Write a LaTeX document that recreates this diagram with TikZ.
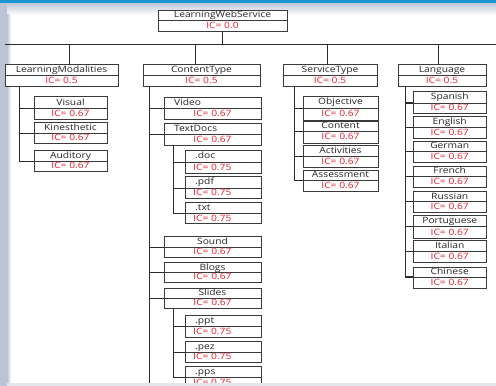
\documentclass[tikz,border=0pt]{standalone}
\usepackage{fontspec}
\setmainfont{Open Sans}[FakeStretch=1.18]

\definecolor{topblue}{HTML}{1C96D2}
\definecolor{bandgray}{HTML}{BEC6D7}
\definecolor{stripgray}{HTML}{BCC3D5}
\definecolor{botgray}{HTML}{E4E6EC}
\definecolor{boxgray}{HTML}{3A3A3A}
\definecolor{linkgray}{HTML}{2B2B2B}
\definecolor{labelgray}{HTML}{262626}
\definecolor{icred}{HTML}{E8202E}

\tikzset{
  box/.style={draw=boxgray, line width=0.8pt, fill=white, inner sep=0pt, outer sep=0pt},
  divider/.style={draw=boxgray, line width=0.8pt},
  link/.style={draw=linkgray, line width=0.9pt},
  lbl/.style={inner sep=0pt, text=labelgray, font=\fontsize{8.7}{9}\selectfont,
              text height=6.2pt, text depth=1.2pt},
  ic/.style={lbl, text=icred},
}

% #1 name, #2 left, #3 top, #4 right, #5 divider, #6 bottom,
% #7 label, #8 IC value, #9 alignment (0 centred, 1 label left, 2 both left)
\newcommand\icbox[9]{%
  \node[box, anchor=north west, minimum width={(#4)-(#2)}, minimum height={(#6)-(#3)}] (#1) at (#2,#3) {};
  \coordinate (#1-d) at (#2,#5);
  \draw[divider] (#1-d) -- (#1-d -| #1.east);
  \ifcase#9
    \node[lbl] (#1-name) at ({(#2+#4)/2},{(#3+#5)/2}) {#7};
    \node[ic] (#1-ic) at ({(#2+#4)/2},{(#5+#6)/2}) {#8};
  \or
    \node[lbl, anchor=west] (#1-name) at ({#2+10},{(#3+#5)/2}) {#7};
    \node[ic] (#1-ic) at ({(#2+#4)/2},{(#5+#6)/2}) {#8};
  \or
    \node[lbl, anchor=west] (#1-name) at ({#2+10},{(#3+#5)/2}) {#7};
    \node[ic, anchor=west] (#1-ic) at ({#2+8},{(#5+#6)/2}) {#8};
  \fi
}

\begin{document}
\begin{tikzpicture}[x=1pt, y=-1pt]
  \useasboundingbox (0,0) rectangle (496,386);
  \clip (0,0) rectangle (496,386);

  % page background and frame
  \fill[white] (0,0) rectangle (496,386);
  \shade[top color=bandgray, bottom color=white] (0,3) rectangle (496,15);
  \fill[stripgray] (0,0) rectangle (7,386);
  \shade[left color=stripgray, right color=white] (7,14) rectangle (11,386);
  \fill[topblue] (0,0) rectangle (496,3.2);

  % root
  \icbox{root}{158}{10}{287}{20.5}{31}{LearningWebService}{IC= 0.0}{0}

  % categories
  \icbox{lm}{5}{64.5}{118}{75.5}{86.5}{LearningModalities}{IC= 0.5}{0}
  \icbox{ct}{143}{64.5}{260}{75.5}{86.5}{ContentType}{IC= 0.5}{0}
  \icbox{st}{283}{64.5}{377}{75.5}{86.5}{ServiceType}{IC= 0.5}{0}
  \icbox{lang}{398}{64.5}{486}{75.5}{86.5}{Language}{IC= 0.5}{0}

  % bus from the root to the categories
  \coordinate (bus-l) at (5,44);
  \coordinate (bus-r) at (496,44);
  \draw[link] (bus-l) -- (bus-r);
  \draw[link] (root.south) -- (root.south |- bus-l);
  \coordinate (lm-top) at ([xshift=64pt]lm.north west);
  \coordinate (ct-top) at ([xshift=52pt]ct.north west);
  \coordinate (st-top) at ([xshift=44pt]st.north west);
  \coordinate (lang-top) at ([xshift=40pt]lang.north west);
  \foreach \c in {lm,ct,st,lang}
    \draw[link] (\c-top) -- (\c-top |- bus-l);

  % LearningModalities
  \icbox{vis}{34}{96.5}{107}{108.5}{119.5}{Visual}{IC= 0.67}{0}
  \icbox{kin}{34}{122.5}{107}{133}{143.5}{Kinesthetic}{IC= 0.67}{0}
  \icbox{aud}{34}{150}{107}{161}{171.5}{Auditory}{IC= 0.67}{0}
  \coordinate (lm-sp) at ([xshift=14pt]lm.south west);
  \foreach \c in {vis,kin,aud}
    \draw[link] (lm-sp) |- (\c-d);

  % ContentType
  \icbox{video}{164}{97.5}{261}{108.5}{119.5}{Video}{IC= 0.67}{1}
  \icbox{textdocs}{164}{123}{261}{134.5}{145}{TextDocs}{IC= 0.67}{1}
  \icbox{doc}{185}{150}{261}{162}{173.5}{.doc}{IC= 0.75}{2}
  \icbox{pdf}{185}{176}{261}{188}{198}{.pdf}{IC= 0.75}{2}
  \icbox{txt}{185}{202.5}{261}{213.5}{223.5}{.txt}{IC= 0.75}{2}
  \icbox{sound}{164}{236.5}{261}{247.5}{257}{Sound}{IC= 0.67}{0}
  \icbox{blogs}{164}{262.5}{261}{272.5}{282}{Blogs}{IC= 0.67}{0}
  \icbox{slides}{164}{288}{261}{298}{308.5}{Slides}{IC= 0.67}{0}
  \icbox{ppt}{185}{315.5}{261}{326.5}{337}{.ppt}{IC= 0.75}{2}
  \icbox{pez}{185}{341.5}{261}{352}{362.5}{.pez}{IC= 0.75}{2}
  \icbox{pps}{185}{366.5}{261}{377.5}{389}{.pps}{IC= 0.75}{2}
  \coordinate (ct-sp) at ([xshift=6pt]ct.south west);
  \coordinate (ct-end) at (149,386);
  \draw[link] (ct-sp) -- (ct-end);
  \foreach \c in {video,textdocs,sound,blogs,slides}
    \draw[link] (ct-sp) |- (\c-d);
  \coordinate (td-sp) at ([xshift=9.5pt]textdocs.south west);
  \foreach \c in {doc,pdf,txt}
    \draw[link] (td-sp) |- (\c-d);
  \coordinate (sl-sp) at ([xshift=9.5pt]slides.south west);
  \foreach \c in {ppt,pez,pps}
    \draw[link] (sl-sp) |- (\c-d);

  % ServiceType
  \icbox{obj}{303}{96.5}{378}{108}{120}{Objective}{IC= 0.67}{0}
  \icbox{cont}{303}{121}{378}{131}{143.5}{Content}{IC= 0.67}{0}
  \icbox{act}{303}{145.5}{378}{156}{167.5}{Activities}{IC= 0.67}{0}
  \icbox{ass}{303}{170}{378}{180}{191.5}{Assessment}{IC= 0.67}{0}
  \coordinate (st-sp) at ([xshift=11pt]st.south west);
  \foreach \c in {obj,cont,act,ass}
    \draw[link] (st-sp) |- (\c-d);

  % Language
  \icbox{spa}{413}{91.5}{486.5}{103}{113.5}{Spanish}{IC= 0.67}{0}
  \icbox{eng}{413}{116.5}{486.5}{127.5}{138.5}{English}{IC= 0.67}{0}
  \icbox{ger}{413}{141}{486.5}{151.5}{162.5}{German}{IC= 0.67}{0}
  \icbox{fre}{413}{166}{486.5}{176.5}{187.5}{French}{IC= 0.67}{0}
  \icbox{rus}{413}{191.5}{486.5}{201.5}{212.5}{Russian}{IC= 0.67}{0}
  \icbox{por}{413}{215}{486.5}{226.5}{238.5}{Portuguese}{IC= 0.67}{0}
  \icbox{ita}{413}{240.5}{486.5}{251.5}{262.5}{Italian}{IC= 0.67}{0}
  \icbox{chi}{413}{267.5}{486.5}{277}{288.5}{Chinese}{IC= 0.67}{0}
  \coordinate (lang-sp) at ([xshift=7.5pt]lang.south west);
  \foreach \c in {spa,eng,ger,fre,rus,por,ita,chi}
    \draw[link, line width=1.3pt] (lang-sp) |- (\c-d);

  % lower edge of the page
  \fill[botgray] (0,383) rectangle (496,386);
  \fill[stripgray] (0,383) rectangle (7,386);
\end{tikzpicture}
\end{document}
